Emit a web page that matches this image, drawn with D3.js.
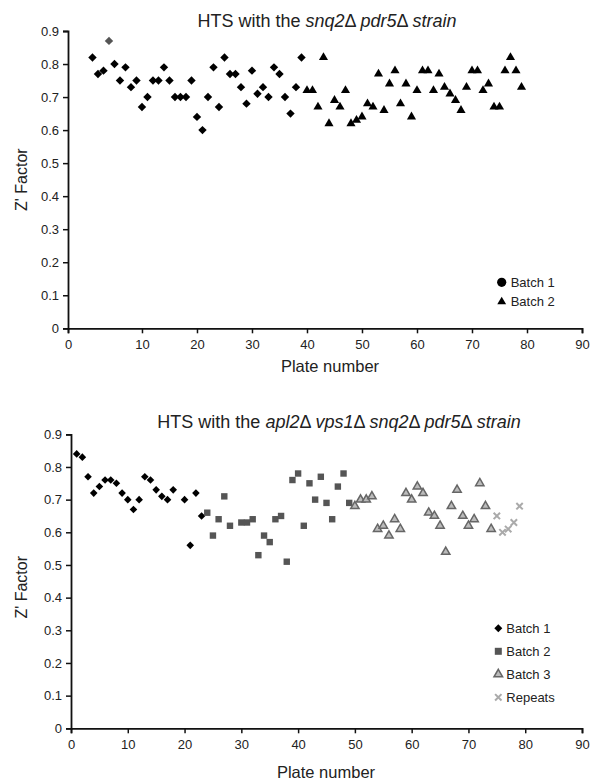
<!DOCTYPE html>
<html><head><meta charset="utf-8">
<script src="https://cdn.jsdelivr.net/npm/d3@7"></script>
<style>body{margin:0;background:#fff}svg{display:block}text{font-family:"Liberation Sans",Arial,sans-serif;fill:#222}</style>
</head><body><div id="c"></div>
<script>
// ---------- DATA ----------
const xTicks = [0,10,20,30,40,50,60,70,80,90];
const yTicks = [0,0.1,0.2,0.3,0.4,0.5,0.6,0.7,0.8,0.9];

// Top chart (snq2Δ pdr5Δ)
const topBatch1Plates = [1,2,3,4,5,6,7,8,9,10,11,12,13,14,15,16,17,18,19,20,21,22,23,24,25,26,27,28,29,30,31,32,33,34,35,36,37,38,39];
const topBatch1Values = [0.82,0.77,0.78,0.87,0.80,0.75,0.79,0.73,0.75,0.67,0.70,0.75,0.75,0.79,0.75,0.70,0.70,0.70,0.75,0.64,0.60,0.70,0.79,0.67,0.82,0.77,0.77,0.73,0.68,0.78,0.71,0.73,0.70,0.79,0.77,0.70,0.65,0.73,0.82];
const topHighlightPlate = 4; // grey diamond
const topBatch2Plates = [40,41,42,43,44,45,46,47,48,49,50,51,52,53,54,55,56,57,58,59,60,61,62,63,64,65,66,67,68,69,70,71,72,73,74,75,76,77,78,79];
const topBatch2Values = [0.72,0.72,0.67,0.82,0.62,0.69,0.67,0.72,0.62,0.63,0.64,0.68,0.67,0.77,0.66,0.74,0.78,0.68,0.74,0.64,0.72,0.78,0.78,0.72,0.77,0.73,0.71,0.69,0.66,0.73,0.78,0.78,0.72,0.74,0.67,0.67,0.78,0.82,0.78,0.73];

// Bottom chart (apl2Δ vps1Δ snq2Δ pdr5Δ)
const botBatch1Plates = [1,2,3,4,5,6,7,8,9,10,11,12,13,14,15,16,17,18,20,21,22,23];
const botBatch1Values = [0.84,0.83,0.77,0.72,0.74,0.76,0.76,0.75,0.72,0.70,0.67,0.70,0.77,0.76,0.73,0.71,0.70,0.73,0.70,0.56,0.72,0.65];
const botBatch2Plates = [24,25,26,27,28,30,31,32,33,34,35,36,37,38,39,40,41,42,43,44,45,46,47,48,49];
const botBatch2Values = [0.66,0.59,0.64,0.71,0.62,0.63,0.63,0.64,0.53,0.59,0.57,0.64,0.65,0.51,0.76,0.78,0.62,0.75,0.70,0.77,0.69,0.64,0.74,0.78,0.69];
const botBatch3Plates = [50,51,52,53,54,55,56,57,58,59,60,61,62,63,64,65,66,67,68,69,70,71,72,73,74];
const botBatch3Values = [0.68,0.70,0.70,0.71,0.61,0.62,0.59,0.64,0.61,0.72,0.70,0.74,0.72,0.66,0.65,0.62,0.54,0.68,0.73,0.65,0.62,0.64,0.75,0.68,0.61];
const botRepeatPlates = [75,76,77,78,79];
const botRepeatValues = [0.65,0.60,0.61,0.63,0.68];

// ---------- LAYOUT ----------
const W = 592, H = 783;
const svg = d3.select("#c").append("svg").attr("width", W).attr("height", H);

function drawPanel(cfg) {
  const g = svg.append("g");
  const x = cfg.x, y = cfg.y;
  const yAxis = d3.axisLeft(y).tickValues(yTicks).tickSize(5).tickPadding(4)
      .tickFormat(d => d === 0 ? "0" : d3.format(".1f")(d));
  const ya = g.append("g").attr("transform", `translate(${cfg.x0},0)`).call(yAxis);
  const xAxis = d3.axisBottom(x).tickValues(cfg.xTickPos).tickSize(5).tickPadding(6)
      .tickFormat((d, i) => xTicks[i]);
  const xa = g.append("g").attr("transform", `translate(0,${y(0)})`).call(xAxis);
  [ya, xa].forEach(a => {
    a.select(".domain").attr("stroke", "#111").attr("stroke-width", 1.8);
    a.selectAll(".tick line").attr("stroke", "#111").attr("stroke-width", 1.5);
    a.selectAll(".tick text").attr("font-size", 13).attr("fill", "#333")
      .attr("font-family", '"Liberation Sans",Arial,sans-serif');
  });
  const t = g.append("text").attr("x", cfg.titleX).attr("y", cfg.titleY)
      .attr("text-anchor", "middle").attr("font-size", 18);
  cfg.title.forEach(p => t.append("tspan").text(p[0]).attr("font-style", p[1] ? "italic" : "normal"));
  g.append("text").attr("x", cfg.xTitleX).attr("y", y(0) + cfg.xTitleDy)
      .attr("text-anchor", "middle").attr("font-size", 16.5).text("Plate number");
  g.append("text").attr("transform", `translate(${cfg.yTitleX},${(y(0) + y(0.9)) / 2 + cfg.yTitleShift}) rotate(-90)`)
      .attr("text-anchor", "middle").attr("font-size", 16).text("Z' Factor");
  return g;
}

const sym = (type, size) => d3.symbol().type(type).size(size)();
const diamond = (r) => `M0,${-r}L${r},0L0,${r}L${-r},0Z`;

// ---------- TOP PANEL ----------
const topOrigin = -3.45; // axis start in plate units
const xT = d3.scaleLinear().domain([topOrigin, 90]).range([68, 582]);
const yT = d3.scaleLinear().domain([0, 0.9]).range([328.3, 31]);
const gT = drawPanel({
  x: xT, y: yT, x0: xT(topOrigin),
  xTickPos: xTicks.map(v => v === 0 ? topOrigin : v),
  title: [["HTS with the ", false], ["snq2", true], ["Δ ", false], ["pdr5", true], ["Δ ", false], ["strain", true]],
  titleX: 327, titleY: 27, xTitleX: 330, xTitleDy: 44, yTitleX: 27, yTitleShift: 0
});
gT.append("g").selectAll("path").data(topBatch1Plates.map((p, i) => [p, topBatch1Values[i]]))
  .join("path").attr("d", diamond(4.2))
  .attr("transform", d => `translate(${xT(d[0])},${yT(d[1])})`)
  .attr("fill", d => d[0] === topHighlightPlate ? "#555" : "#000");
gT.append("g").selectAll("path").data(topBatch2Plates.map((p, i) => [p, topBatch2Values[i]]))
  .join("path").attr("d", sym(d3.symbolTriangle, 36))
  .attr("transform", d => `translate(${xT(d[0])},${yT(d[1])})`).attr("fill", "#000");
const lgT = gT.append("g").attr("transform", "translate(501.7,282.3)");
lgT.append("circle").attr("r", 4.6).attr("fill", "#000");
lgT.append("text").attr("x", 9).attr("y", 4.5).attr("font-size", 13).text("Batch 1");
lgT.append("path").attr("d", sym(d3.symbolTriangle, 34)).attr("transform", "translate(0,19.5)").attr("fill", "#000");
lgT.append("text").attr("x", 9).attr("y", 24).attr("font-size", 13).text("Batch 2");

// ---------- BOTTOM PANEL ----------
const xB = d3.scaleLinear().domain([0, 90]).range([71, 582]);
const yB = d3.scaleLinear().domain([0, 0.9]).range([728.3, 434.3]);
const gB = drawPanel({
  x: xB, y: yB, x0: xB(0), xTickPos: xTicks,
  title: [["HTS with the ", false], ["apl2", true], ["Δ ", false], ["vps1", true], ["Δ ", false], ["snq2", true], ["Δ ", false], ["pdr5", true], ["Δ ", false], ["strain", true]],
  titleX: 339, titleY: 428, xTitleX: 326, xTitleDy: 50, yTitleX: 27, yTitleShift: 6
});
gB.append("g").selectAll("path").data(botBatch1Plates.map((p, i) => [p, botBatch1Values[i]]))
  .join("path").attr("d", diamond(3.8))
  .attr("transform", d => `translate(${xB(d[0])},${yB(d[1])})`).attr("fill", "#000");
gB.append("g").selectAll("rect").data(botBatch2Plates.map((p, i) => [p, botBatch2Values[i]]))
  .join("rect").attr("x", -3.2).attr("y", -3.2).attr("width", 6.4).attr("height", 6.4)
  .attr("transform", d => `translate(${xB(d[0])},${yB(d[1])})`).attr("fill", "#555");
gB.append("g").selectAll("path").data(botBatch3Plates.map((p, i) => [p, botBatch3Values[i]]))
  .join("path").attr("d", sym(d3.symbolTriangle, 30))
  .attr("transform", d => `translate(${xB(d[0])},${yB(d[1])})`)
  .attr("fill", "#bbb").attr("stroke", "#666").attr("stroke-width", 1.5);
const cross = "M-3.2,-3.2L3.2,3.2M-3.2,3.2L3.2,-3.2";
gB.append("g").selectAll("path").data(botRepeatPlates.map((p, i) => [p, botRepeatValues[i]]))
  .join("path").attr("d", cross)
  .attr("transform", d => `translate(${xB(d[0])},${yB(d[1])})`)
  .attr("fill", "none").attr("stroke", "#aaa").attr("stroke-width", 2);
const lgB = gB.append("g").attr("transform", "translate(498.3,628.3)");
const lgItems = ["Batch 1", "Batch 2", "Batch 3", "Repeats"];
lgItems.forEach((name, i) => {
  const gi = lgB.append("g").attr("transform", `translate(0,${i * 23})`);
  if (i === 0) gi.append("path").attr("d", diamond(4)).attr("fill", "#000");
  if (i === 1) gi.append("rect").attr("x", -3.5).attr("y", -3.5).attr("width", 7).attr("height", 7).attr("fill", "#555");
  if (i === 2) gi.append("path").attr("d", sym(d3.symbolTriangle, 32)).attr("fill", "#bbb").attr("stroke", "#666").attr("stroke-width", 1.5);
  if (i === 3) gi.append("path").attr("d", cross).attr("fill", "none").attr("stroke", "#aaa").attr("stroke-width", 2);
  gi.append("text").attr("x", 8).attr("y", 4.5).attr("font-size", 13).text(name);
});
</script></body></html>
